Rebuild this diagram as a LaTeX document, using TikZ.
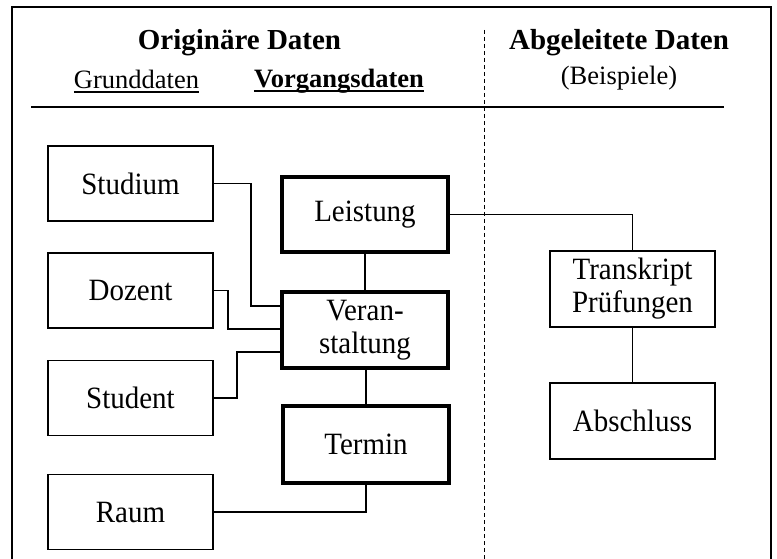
\documentclass[tikz,border=0pt]{standalone}
\usepackage{fontspec}
\setmainfont{Liberation Serif}
\newfontfamily\boxfont{Liberation Serif}[FakeStretch=0.935]
\begin{document}
\begin{tikzpicture}[x=1pt,y=-1pt,
  every node/.style={font=\boxfont\fontsize{31}{33}\selectfont},
  thinbox/.style={draw,line width=1.9pt,minimum width=165pt,minimum height=75pt,inner sep=0pt,align=center},
  thickbox/.style={draw,line width=3.2pt,minimum width=166pt,minimum height=75pt,inner sep=0pt,align=center},
  conn/.style={line width=1.8pt},
  head/.style={inner sep=0pt,anchor=base,font=\fontsize{29}{32}\selectfont\bfseries},
  sub/.style={inner sep=0pt,anchor=base,font=\fontsize{26.5}{30}\selectfont},
  subbold/.style={inner sep=0pt,anchor=base,font=\fontsize{26.5}{30}\selectfont\bfseries},
]
\useasboundingbox (0,0) rectangle (777,559);
% frame
\draw[line width=1.2pt] (12,559) -- (12,7) -- (771,7) -- (771,559);
% header
\node[head] (orig) at (239.5,50) {Originäre Daten};
\node[head] (abgel) at (619,50) {Abgeleitete Daten};
\node[sub] (grund) at (136.5,89) {Grunddaten};
\node[subbold] (vorg) at (339,88) {Vorgangsdaten};
\node[sub] (beisp) at (619,85) {(Beispiele)};
\draw[line width=1.3pt] ([yshift=-3pt]grund.base west) -- ([yshift=-3pt]grund.base east);
\draw[line width=2pt] ([yshift=-3.5pt]vorg.base west) -- ([yshift=-3.5pt]vorg.base east);
\draw[line width=2.5pt] (31,107) -- (724,107);
\draw[line width=1pt,dash pattern=on 4pt off 3pt] (484,30) -- (484,559);
% boxes
\node[thinbox] (studium) at (130.5,183.5) {Studium};
\node[thinbox] (dozent) at (130.5,290.5) {Dozent};
\node[thinbox] (student) at (130.5,398) {Student};
\node[thinbox] (raum) at (130.5,512) {Raum};
\node[thickbox] (leistung) at (365,214.5) {Leistung};
\node[thickbox,minimum height=76pt] (veran) at (365,330) {Veran-\\staltung};
\node[thickbox,minimum height=77pt] (termin) at (366,444.5) {Termin};
\node[thinbox,minimum height=76pt] (transkript) at (632.5,289) {Transkript\\Prüfungen};
\node[thinbox,minimum height=76pt] (abschluss) at (632.5,421) {Abschluss};
% connectors
\draw[conn] (studium.east) -| (251,306) -- (veran.west |- 0,306);
\draw[conn] (dozent.east) -| (228,329) -- (veran.west |- 0,329);
\draw[conn] (student.east) -| (237,352) -- (veran.west |- 0,352);
\draw[conn] (leistung) -- (veran);
\draw[conn] (veran.south -| termin.north) -- (termin.north);
\draw[conn] (raum.east) -| (termin.south);
\draw[conn] (leistung.east) -| (transkript.north);
\draw[conn] (transkript) -- (abschluss);
\end{tikzpicture}
\end{document}
